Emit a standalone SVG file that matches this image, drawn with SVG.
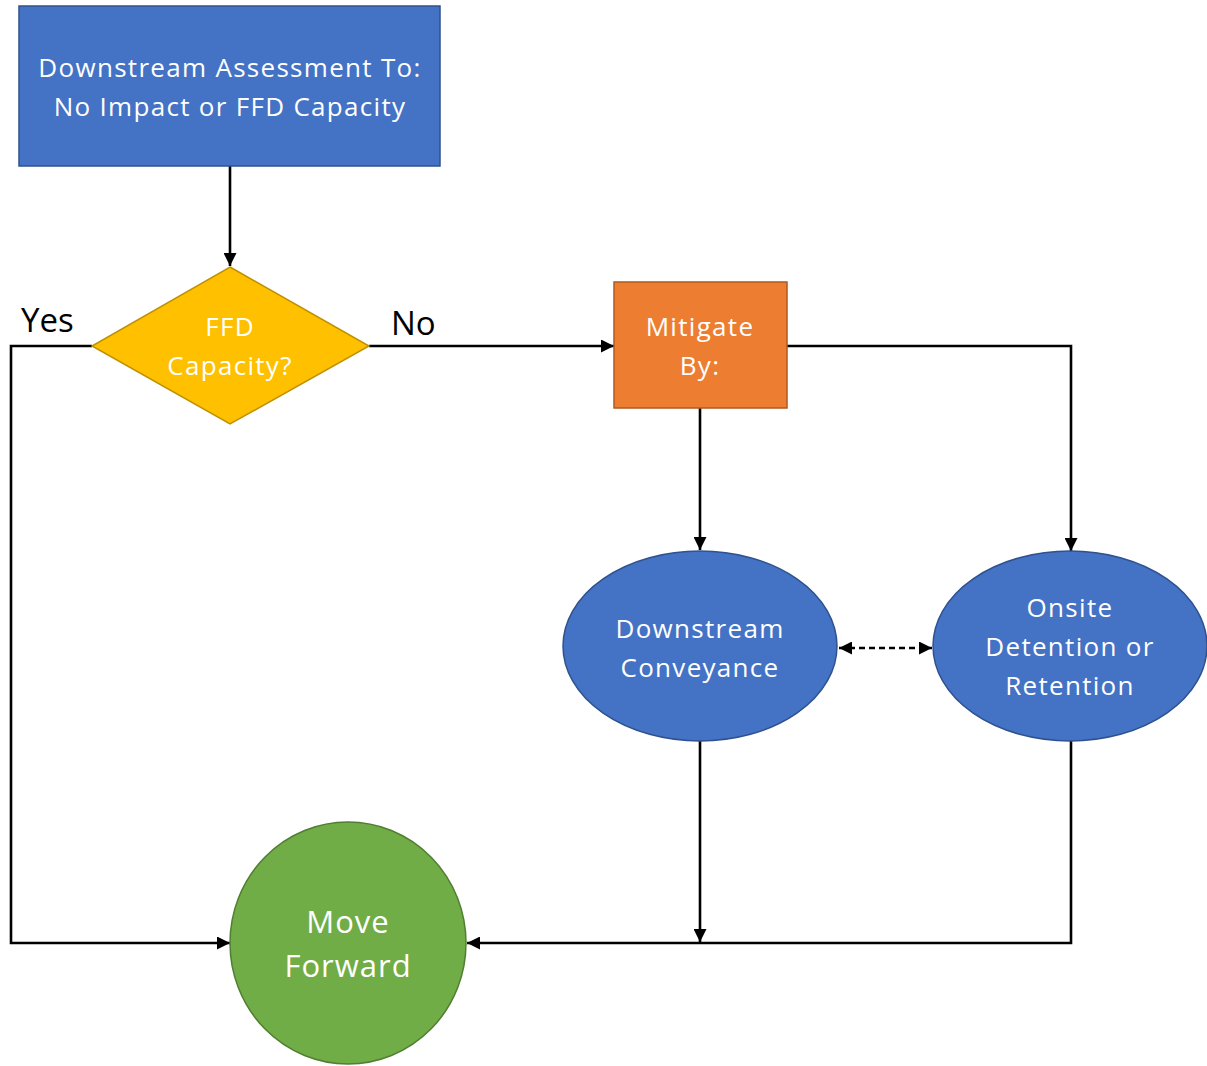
<svg xmlns="http://www.w3.org/2000/svg" width="1207" height="1066" viewBox="0 0 1207 1066">
<defs>
<style>
.t{font-family:"Open Sans","Noto Sans","DejaVu Sans",sans-serif;fill:#fff;text-anchor:middle;font-size:26px;letter-spacing:1.3px}
.big{font-size:31px;letter-spacing:1px}
.lbl{font-family:"Open Sans","Noto Sans","DejaVu Sans",sans-serif;fill:#000;font-size:33px}
.c{fill:none;stroke:#000;stroke-width:2.6}
.blue{fill:#4472C4;stroke:#2F528F;stroke-width:1.5}
</style>
<marker id="ah" viewBox="0 0 10 10" refX="10" refY="5" markerWidth="5" markerHeight="5" orient="auto-start-reverse" markerUnits="strokeWidth">
<path d="M0,0 L10,5 L0,10 z" fill="#000"/>
</marker>
</defs>
<rect width="1207" height="1066" fill="#fff"/>
<g id="connectors">
<path class="c" d="M230,166 V266" marker-end="url(#ah)"/>
<path class="c" d="M92,346 H11 V943 H230" marker-end="url(#ah)"/>
<path class="c" d="M369,346 H614" marker-end="url(#ah)"/>
<path class="c" d="M787,346 H1071 V551" marker-end="url(#ah)"/>
<path class="c" d="M700,408 V550" marker-end="url(#ah)"/>
<path class="c" d="M839,648 H932" stroke-dasharray="6,4" marker-start="url(#ah)" marker-end="url(#ah)"/>
<path class="c" d="M700,741 V942" marker-end="url(#ah)"/>
<path class="c" d="M1071,741 V943 H467" marker-end="url(#ah)"/>
<text class="lbl" x="21" y="332">Yes</text>
<text class="lbl" x="391" y="335">No</text>
</g>
<g id="n-assess">
<rect class="blue" x="19" y="6" width="421" height="160"/>
<text class="t" x="230" y="77">Downstream Assessment To:</text>
<text class="t" x="230" y="116">No Impact or FFD Capacity</text>
</g>
<g id="n-ffd">
<polygon points="230,267 369,346 230,424 92,346" fill="#FFC000" stroke="#BF9000" stroke-width="1.5"/>
<text class="t" x="230" y="336">FFD</text>
<text class="t" x="230" y="375">Capacity?</text>
</g>
<g id="n-mitigate">
<rect x="614" y="282" width="173" height="126" fill="#ED7D31" stroke="#AE5A21" stroke-width="1.5"/>
<text class="t" x="700" y="336">Mitigate</text>
<text class="t" x="700" y="375">By:</text>
</g>
<g id="n-conveyance">
<ellipse class="blue" cx="700" cy="646" rx="137" ry="95"/>
<text class="t" x="700" y="638">Downstream</text>
<text class="t" x="700" y="677">Conveyance</text>
</g>
<g id="n-onsite">
<ellipse class="blue" cx="1070" cy="646" rx="137" ry="95"/>
<text class="t" x="1070" y="617">Onsite</text>
<text class="t" x="1070" y="656">Detention or</text>
<text class="t" x="1070" y="695">Retention</text>
</g>
<g id="n-move">
<ellipse cx="348" cy="943" rx="118" ry="121" fill="#70AD47" stroke="#507E32" stroke-width="1.5"/>
<text class="t big" x="348" y="933">Move</text>
<text class="t big" x="348" y="977">Forward</text>
</g>
</svg>
